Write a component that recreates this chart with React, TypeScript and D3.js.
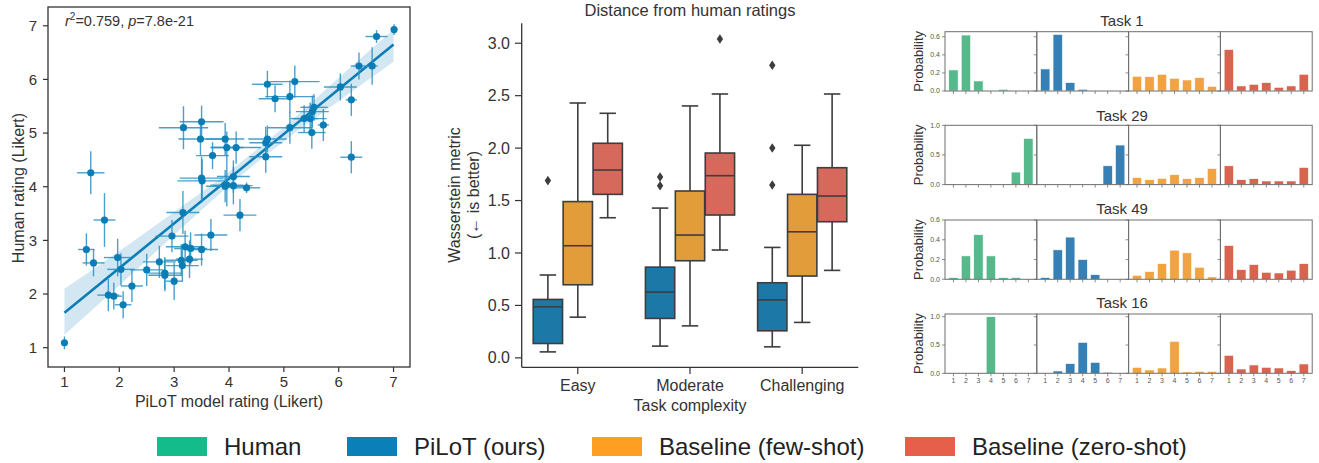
import React from "react";
import * as d3 from "d3";

const FONT = "'Liberation Sans', Arial, sans-serif";
const INK = "#333";

// ---- scatter: PiLoT vs human ratings ----
const pilotRating = [7.01, 6.69, 6.37, 6.61, 6.03, 6.23, 6.23, 4.7, 5.2, 4.84, 5.11, 5.55, 5.52, 5.37, 5.48, 5.51, 5.72, 5.11, 4.7, 4.67, 4.67, 3.17, 3.5, 3.48, 3.93, 3.96, 4.13, 3.7, 1.48, 3.5, 3.51, 4.08, 3.93, 3.96, 4.08, 4.32, 1.73, 3.16, 4.2, 1.4, 1.53, 1.97, 2.03, 2.96, 3.67, 3.2, 3.3, 3.5, 2.73, 3.13, 3.28, 3.15, 2.5, 2.83, 2.83, 3.0, 2.23, 1.8, 1.9, 2.07, 1.0];
const humanRating = [6.93, 6.8, 6.25, 6.25, 5.86, 5.62, 4.55, 5.91, 5.96, 5.64, 5.68, 5.48, 5.4, 5.27, 5.27, 5.01, 5.15, 5.1, 4.89, 4.82, 4.56, 5.1, 5.21, 4.89, 4.89, 4.73, 4.73, 4.58, 4.26, 4.16, 4.11, 4.19, 4.01, 4.03, 4.02, 3.98, 3.38, 3.52, 3.47, 2.83, 2.58, 2.68, 2.46, 3.08, 3.1, 2.88, 2.85, 2.83, 2.6, 2.63, 2.65, 2.53, 2.45, 2.39, 2.35, 2.24, 2.15, 1.98, 1.96, 1.8, 1.09];
const pilotErr = [0.05, 0.2, 0.15, 0.1, 0.3, 0.1, 0.2, 0.28, 0.45, 0.3, 0.45, 0.25, 0.3, 0.25, 0.3, 0.25, 0.1, 0.4, 0.35, 0.3, 0.3, 0.45, 0.4, 0.4, 0.35, 0.3, 0.45, 0.3, 0.25, 0.4, 0.45, 0.3, 0.35, 0.3, 0.35, 0.25, 0.2, 0.3, 0.3, 0.15, 0.2, 0.25, 0.25, 0.3, 0.3, 0.35, 0.3, 0.3, 0.3, 0.3, 0.25, 0.3, 0.3, 0.3, 0.3, 0.15, 0.2, 0.2, 0.15, 0.15, 0.02];
const humanErr = [0.1, 0.12, 0.25, 0.35, 0.25, 0.3, 0.3, 0.25, 0.3, 0.25, 0.3, 0.25, 0.3, 0.25, 0.3, 0.3, 0.3, 0.3, 0.25, 0.3, 0.3, 0.4, 0.3, 0.3, 0.3, 0.3, 0.3, 0.25, 0.4, 0.4, 0.4, 0.3, 0.3, 0.4, 0.35, 0.1, 0.5, 0.4, 0.3, 0.3, 0.25, 0.35, 0.3, 0.3, 0.3, 0.3, 0.3, 0.3, 0.3, 0.3, 0.35, 0.3, 0.3, 0.3, 0.3, 0.35, 0.3, 0.3, 0.25, 0.25, 0.12];
const fitX = [1, 7];
const fitY = [1.65, 6.65];
const ciX = [1, 2, 3, 4, 5, 6, 7];
const ciLow = [1.24, 2.16, 3.1, 4.02, 4.85, 5.6, 6.33];
const ciHigh = [2.1, 2.8, 3.53, 4.28, 5.11, 6.03, 6.93];
const ratingTicks = [1, 2, 3, 4, 5, 6, 7];

// ---- box plot: distance from human ratings ----
const complexities = ["Easy", "Moderate", "Challenging"];
const boxModels = ["PiLoT (ours)", "Baseline (few-shot)", "Baseline (zero-shot)"];
// rows: model, columns: complexity
const boxLow = [[0.057, 0.112, 0.105], [0.388, 0.305, 0.338], [1.336, 1.028, 0.834]];
const boxQ1 = [[0.137, 0.376, 0.258], [0.697, 0.926, 0.78], [1.559, 1.362, 1.298]];
const boxMedian = [[0.487, 0.627, 0.553], [1.069, 1.171, 1.202], [1.791, 1.737, 1.543]];
const boxQ3 = [[0.557, 0.865, 0.716], [1.49, 1.591, 1.559], [2.046, 1.953, 1.813]];
const boxHigh = [[0.79, 1.428, 1.053], [2.43, 2.402, 2.027], [2.332, 2.516, 2.516]];
const outlierModel = [0, 0, 0, 2, 0, 0, 0];
const outlierComplexity = [0, 1, 1, 1, 2, 2, 2];
const outlierValue = [1.69, 1.641, 1.724, 3.041, 2.79, 2.001, 1.648];
const distTicks = [0, 0.5, 1, 1.5, 2, 2.5, 3];

// ---- per-task rating distributions ----
const sources = ["Human", "PiLoT (ours)", "Baseline (few-shot)", "Baseline (zero-shot)"];
const ratingLevels = [1, 2, 3, 4, 5, 6, 7];
const taskNames = ["Task 1", "Task 29", "Task 49", "Task 16"];
const task1 = [
  [0.233, 0.619, 0.111, 0, 0.019, 0, 0],
  [0.244, 0.626, 0.093, 0.019, 0, 0, 0],
  [0.163, 0.159, 0.185, 0.141, 0.122, 0.148, 0.052],
  [0.459, 0.056, 0.074, 0.093, 0.041, 0.056, 0.185],
];
const task29 = [
  [0, 0, 0, 0, 0, 0.211, 0.778],
  [0, 0, 0, 0, 0, 0.317, 0.667],
  [0.117, 0.083, 0.106, 0.167, 0.1, 0.117, 0.272],
  [0.317, 0.083, 0.1, 0.061, 0.061, 0.061, 0.289],
];
const task49 = [
  [0.017, 0.237, 0.451, 0.237, 0.017, 0.017, 0],
  [0.017, 0.298, 0.427, 0.2, 0.047, 0, 0],
  [0.041, 0.078, 0.159, 0.295, 0.268, 0.122, 0.024],
  [0.342, 0.098, 0.149, 0.071, 0.064, 0.092, 0.159],
];
const task16 = [
  [0, 0, 0, 1.0, 0, 0, 0],
  [0, 0.041, 0.171, 0.547, 0.194, 0.018, 0],
  [0.106, 0.059, 0.094, 0.565, 0.024, 0.035, 0.035],
  [0.318, 0.076, 0.147, 0.106, 0.094, 0.047, 0.165],
];
const taskProbs = [task1, task29, task49, task16];
const taskYMax = [0.656, 1.0, 0.6, 1.048];
const taskYTicks = [[0, 0.2, 0.4, 0.6], [0, 0.5, 1.0], [0, 0.2, 0.4, 0.6], [0, 0.5, 1.0]];

const legendColors = ["#14bb8b", "#0a80b8", "#fe9f22", "#e65f4b"];
const boxColors = ["#1c78a6", "#e39c3a", "#d6695c"];
const barColors = ["#55b98b", "#3680b5", "#f0a340", "#d8634f"];
const scatterColor = "#0b7db6";

function Scatter() {
  const x = d3.scaleLinear().domain([0.7, 7.3]).range([48, 410]);
  const y = d3.scaleLinear().domain([0.64, 7.35]).range([367, 7]);
  const band = d3
    .area<number>()
    .x((_, i) => x(ciX[i]))
    .y0((_, i) => y(ciLow[i]))
    .y1((_, i) => y(ciHigh[i]))
    .curve(d3.curveMonotoneX);
  const fit = d3
    .line<number>()
    .x((d) => x(d))
    .y((_, i) => y(fitY[i]));

  return (
    <g fontFamily={FONT} fill={INK}>
      <path d={band(ciX) ?? ""} fill="#c7e1ef" opacity={0.8} />
      <path d={fit(fitX) ?? ""} stroke={scatterColor} strokeWidth={2.6} fill="none" />
      {pilotRating.map((px, i) => (
        <g key={i} stroke="#2b90c4" strokeWidth={1.4} opacity={0.85}>
          <line x1={x(px - pilotErr[i])} x2={x(px + pilotErr[i])} y1={y(humanRating[i])} y2={y(humanRating[i])} />
          <line x1={x(px)} x2={x(px)} y1={y(humanRating[i] - humanErr[i])} y2={y(humanRating[i] + humanErr[i])} />
        </g>
      ))}
      {pilotRating.map((px, i) => (
        <circle key={i} cx={x(px)} cy={y(humanRating[i])} r={3.6} fill={scatterColor} />
      ))}
      <rect x={48} y={7} width={362} height={360} fill="none" stroke={INK} strokeWidth={1.3} />
      {ratingTicks.map((t) => (
        <g key={"x" + t}>
          <line x1={x(t)} x2={x(t)} y1={367} y2={372} stroke={INK} strokeWidth={1.2} />
          <text x={x(t)} y={387} textAnchor="middle" fontSize={15}>{t}</text>
        </g>
      ))}
      {ratingTicks.map((t) => (
        <g key={"y" + t}>
          <line x1={43} x2={48} y1={y(t)} y2={y(t)} stroke={INK} strokeWidth={1.2} />
          <text x={37} y={y(t)} dy="0.35em" textAnchor="end" fontSize={15}>{t}</text>
        </g>
      ))}
      <text x={229} y={407} textAnchor="middle" fontSize={16}>PiLoT model rating (Likert)</text>
      <text transform={`translate(24,188) rotate(-90)`} textAnchor="middle" fontSize={16}>Human rating (Likert)</text>
      <text x={65} y={26} fontSize={14.5}>
        <tspan fontStyle="italic">r</tspan>
        <tspan dy={-6} fontSize={10}>2</tspan>
        <tspan dy={6}>=0.759, </tspan>
        <tspan fontStyle="italic">p</tspan>
        <tspan>=7.8e-21</tspan>
      </text>
    </g>
  );
}

function BoxPlot() {
  const y = d3.scaleLinear().domain([-0.09, 3.19]).range([367.3, 23.3]);
  const xc = d3.scaleBand<string>().domain(complexities).range([521.7, 858.3]);
  const group = xc.bandwidth() * 0.8;
  const xm = d3.scaleBand<string>().domain(boxModels).range([-group / 2, group / 2]);
  const bw = xm.bandwidth() - 0.6;
  const edge = "#3d3d3d";

  return (
    <g fontFamily={FONT} fill={INK}>
      <text x={690} y={16} textAnchor="middle" fontSize={16.5}>Distance from human ratings</text>
      {boxModels.map((m, mi) =>
        complexities.map((c, ci) => {
          const cx = (xc(c) ?? 0) + xc.bandwidth() / 2 + (xm(m) ?? 0) + xm.bandwidth() / 2;
          const x0 = cx - bw / 2;
          return (
            <g key={m + c} stroke={edge} strokeWidth={1.6}>
              <line x1={cx} x2={cx} y1={y(boxLow[mi][ci])} y2={y(boxQ1[mi][ci])} />
              <line x1={cx} x2={cx} y1={y(boxQ3[mi][ci])} y2={y(boxHigh[mi][ci])} />
              <line x1={cx - bw * 0.28} x2={cx + bw * 0.28} y1={y(boxLow[mi][ci])} y2={y(boxLow[mi][ci])} />
              <line x1={cx - bw * 0.28} x2={cx + bw * 0.28} y1={y(boxHigh[mi][ci])} y2={y(boxHigh[mi][ci])} />
              <rect x={x0} y={y(boxQ3[mi][ci])} width={bw} height={y(boxQ1[mi][ci]) - y(boxQ3[mi][ci])} fill={boxColors[mi]} />
              <line x1={x0} x2={x0 + bw} y1={y(boxMedian[mi][ci])} y2={y(boxMedian[mi][ci])} />
            </g>
          );
        })
      )}
      {outlierValue.map((v, i) => {
        const cx =
          (xc(complexities[outlierComplexity[i]]) ?? 0) + xc.bandwidth() / 2 +
          (xm(boxModels[outlierModel[i]]) ?? 0) + xm.bandwidth() / 2;
        const cy = y(v);
        return <path key={i} d={`M${cx},${cy - 4.8}L${cx + 3.2},${cy}L${cx},${cy + 4.8}L${cx - 3.2},${cy}Z`} fill={edge} />;
      })}
      <line x1={521.7} x2={521.7} y1={23.3} y2={367.3} stroke={INK} strokeWidth={1.3} />
      <line x1={521.7} x2={858.3} y1={367.3} y2={367.3} stroke={INK} strokeWidth={1.3} />
      {distTicks.map((t) => (
        <g key={t}>
          <line x1={515} x2={521.7} y1={y(t)} y2={y(t)} stroke={INK} strokeWidth={1.2} />
          <text x={510} y={y(t)} dy="0.35em" textAnchor="end" fontSize={16}>{t.toFixed(1)}</text>
        </g>
      ))}
      {complexities.map((c) => {
        const cx = (xc(c) ?? 0) + xc.bandwidth() / 2;
        return (
          <g key={c}>
            <line x1={cx} x2={cx} y1={367.3} y2={374} stroke={INK} strokeWidth={1.2} />
            <text x={cx} y={391} textAnchor="middle" fontSize={16}>{c}</text>
          </g>
        );
      })}
      <text x={690} y={411} textAnchor="middle" fontSize={16}>Task complexity</text>
      <text transform="translate(460,195) rotate(-90)" textAnchor="middle" fontSize={16}>Wasserstein metric</text>
      <text transform="translate(479,195) rotate(-90)" textAnchor="middle" fontSize={16}>(← is better)</text>
    </g>
  );
}

function TaskGrid() {
  const left = 945;
  const panelW = 91.8;
  const panelH = 59.3;
  const rowTops = [31.7, 125.3, 220, 314];
  const titleBase = [26, 120.7, 214, 308.3];
  const xb = d3.scaleBand<number>().domain(ratingLevels).range([0, panelW]).paddingInner(0.25).paddingOuter(0.3);
  const spine = "#6e6e6e";

  return (
    <g fontFamily={FONT}>
      {taskNames.map((name, r) => {
        const top = rowTops[r];
        const y = d3.scaleLinear().domain([0, taskYMax[r]]).range([top + panelH, top]);
        return (
          <g key={name}>
            <text x={1122} y={titleBase[r]} textAnchor="middle" fontSize={15} fill={INK}>{name}</text>
            <text transform={`translate(923,${top + panelH / 2}) rotate(-90)`} textAnchor="middle" fontSize={13} fill={INK}>Probability</text>
            {sources.map((s, c) => {
              const x0 = left + c * panelW;
              return (
                <g key={s}>
                  {ratingLevels.map((lv, k) => {
                    const v = taskProbs[r][c][k];
                    const bx = x0 + (xb(lv) ?? 0);
                    return (
                      <g key={lv}>
                        {v > 0 && (
                          <rect x={bx} y={y(v)} width={xb.bandwidth()} height={y(0) - y(v)} fill={barColors[c]} stroke="#fff" strokeWidth={0.6} />
                        )}
                        <line x1={bx + xb.bandwidth() / 2} x2={bx + xb.bandwidth() / 2} y1={top + panelH} y2={top + panelH + 3} stroke={spine} strokeWidth={0.8} />
                        {r === 3 && (
                          <text x={bx + xb.bandwidth() / 2} y={383} textAnchor="middle" fontSize={7} fill="#555">{lv}</text>
                        )}
                      </g>
                    );
                  })}
                  {taskYTicks[r].map((t) => (
                    <line key={t} x1={x0 - 3} x2={x0} y1={y(t)} y2={y(t)} stroke={spine} strokeWidth={0.8} />
                  ))}
                  <rect x={x0} y={top} width={panelW} height={panelH} fill="none" stroke={spine} strokeWidth={1} />
                </g>
              );
            })}
            {taskYTicks[r].map((t) => (
              <text key={t} x={940} y={y(t)} dy="0.35em" textAnchor="end" fontSize={7} fill="#555">{t.toFixed(1)}</text>
            ))}
          </g>
        );
      })}
    </g>
  );
}

function Legend() {
  const xs = d3.scaleOrdinal<string, number>().domain(sources).range([157, 347, 592, 905]);
  return (
    <g fontFamily={FONT}>
      {sources.map((s, i) => (
        <g key={s}>
          <rect x={xs(s)} y={437} width={50} height={19} fill={legendColors[i]} />
          <text x={xs(s) + 67} y={455} fontSize={24} fill="#222">{s}</text>
        </g>
      ))}
    </g>
  );
}

export default function App() {
  return (
    <svg
      width={1319}
      height={463}
      viewBox="0 0 1319 463"
      style={{ position: "absolute", left: 0, top: 0, background: "#fff" }}
    >
      <rect width={1319} height={463} fill="#fff" />
      <Scatter />
      <BoxPlot />
      <TaskGrid />
      <Legend />
    </svg>
  );
}
